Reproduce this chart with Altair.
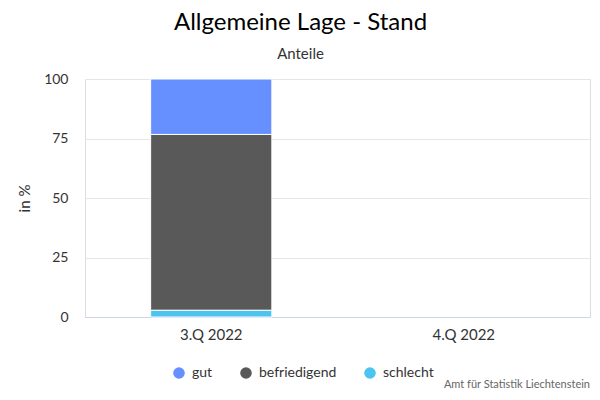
import altair as alt
import pandas as pd

quarters = ["3.Q 2022", "4.Q 2022"]
categories = ["gut", "befriedigend", "schlecht"]
values_3q = [23.3, 73.9, 2.8]
colors = ["#6690ff", "#595959", "#4bc4f0"]
stack_order = [3, 2, 1]

df = pd.DataFrame({
    "Quartal": ["3.Q 2022"] * 3,
    "Kategorie": categories,
    "Wert": values_3q,
    "Ordnung": stack_order,
})

FONT = "Lato"

bars = alt.Chart(df).mark_bar(stroke="white", strokeWidth=1, width=alt.RelativeBandSize(0.48)).encode(
    x=alt.X("Quartal:N", scale=alt.Scale(domain=quarters, paddingInner=0, paddingOuter=0),
            axis=alt.Axis(title=None, labelAngle=0, ticks=False, grid=False, domainColor="#ccd6eb",
                          labelFontSize=15, labelColor="#333333", labelPadding=10, labelFont=FONT)),
    y=alt.Y("Wert:Q", stack="zero", scale=alt.Scale(domain=[0, 100]),
            axis=alt.Axis(title="in %", values=[0, 25, 50, 75, 100], domain=False, ticks=False,
                          gridColor="#e6e6e6", labelFontSize=14, labelColor="#333333", labelPadding=17,
                          titleFontSize=15, titleFontWeight="normal", titleColor="#333333",
                          titlePadding=11, labelFont=FONT, titleFont=FONT)),
    color=alt.Color("Kategorie:N", scale=alt.Scale(domain=categories, range=colors),
                    legend=alt.Legend(title=None, orient="none", direction="horizontal",
                                      legendX=87, legendY=287, symbolType="circle", symbolSize=135,
                                      symbolStrokeWidth=0, labelFontSize=14, labelColor="#333333",
                                      labelFont=FONT, columnPadding=26, labelOffset=6, symbolOpacity=1)),
    order=alt.Order("Ordnung:Q", sort="ascending"),
)

credit = alt.Chart(pd.DataFrame({"t": ["Amt für Statistik Liechtenstein"]})).mark_text(
    align="right", baseline="alphabetic", fontSize=11, color="#666666", font=FONT
).encode(x=alt.value(505), y=alt.value(309), text="t:N")

chart = alt.layer(bars, credit).properties(
    width=505,
    height=238,
    padding={"left": 77, "top": 71, "right": 2, "bottom": 73},
    autosize=alt.AutoSizeParams(type="none"),
    title=alt.TitleParams(
        text="Allgemeine Lage - Stand",
        subtitle="Anteile",
        anchor="middle",
        fontSize=24,
        fontWeight="normal",
        font=FONT,
        subtitleFont=FONT,
        subtitleFontSize=15,
        color="#000000",
        subtitleColor="#333333",
        subtitlePadding=12,
        offset=10,
        dx=-37,
    ),
).configure_view(stroke="transparent", strokeWidth=0).configure(background="white")

chart.save("out.html", embed_options={"renderer": "svg", "actions": False})
